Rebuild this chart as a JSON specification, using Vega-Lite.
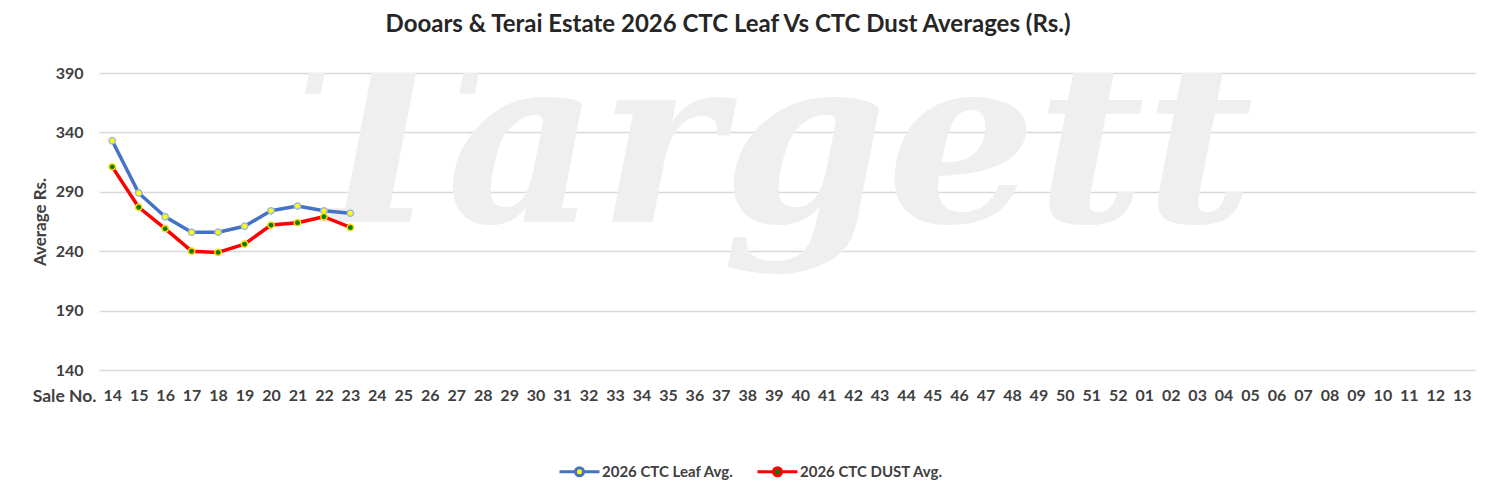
{
  "$schema": "https://vega.github.io/schema/vega-lite/v6.json",
  "width": 1376,
  "height": 297,
  "autosize": {"type": "none"},
  "padding": {"left": 99, "top": 73, "right": 21, "bottom": 129},
  "background": "white",
  "config": {
    "view": {"stroke": null},
    "font": "Lato",
    "axis": {"labelFont": "Lato", "labelFontWeight": "bold", "labelColor": "#404040", "titleFont": "Lato", "titleColor": "#404040"}
  },
  "title": {
    "text": "Dooars & Terai Estate 2026 CTC Leaf Vs CTC Dust Averages (Rs.)",
    "font": "Lato",
    "fontSize": 24,
    "fontWeight": "bold",
    "color": "#262626",
    "anchor": "middle",
    "dx": -59,
    "offset": 28
  },
  "data": {
    "values": [
      {"series": "2026 CTC Leaf Avg.", "sale": "14", "value": 333},
      {"series": "2026 CTC Leaf Avg.", "sale": "15", "value": 289},
      {"series": "2026 CTC Leaf Avg.", "sale": "16", "value": 269},
      {"series": "2026 CTC Leaf Avg.", "sale": "17", "value": 256},
      {"series": "2026 CTC Leaf Avg.", "sale": "18", "value": 256},
      {"series": "2026 CTC Leaf Avg.", "sale": "19", "value": 261},
      {"series": "2026 CTC Leaf Avg.", "sale": "20", "value": 274},
      {"series": "2026 CTC Leaf Avg.", "sale": "21", "value": 278},
      {"series": "2026 CTC Leaf Avg.", "sale": "22", "value": 274},
      {"series": "2026 CTC Leaf Avg.", "sale": "23", "value": 272},
      {"series": "2026 CTC DUST Avg.", "sale": "14", "value": 311},
      {"series": "2026 CTC DUST Avg.", "sale": "15", "value": 277},
      {"series": "2026 CTC DUST Avg.", "sale": "16", "value": 259},
      {"series": "2026 CTC DUST Avg.", "sale": "17", "value": 240},
      {"series": "2026 CTC DUST Avg.", "sale": "18", "value": 239},
      {"series": "2026 CTC DUST Avg.", "sale": "19", "value": 246},
      {"series": "2026 CTC DUST Avg.", "sale": "20", "value": 262},
      {"series": "2026 CTC DUST Avg.", "sale": "21", "value": 264},
      {"series": "2026 CTC DUST Avg.", "sale": "22", "value": 269},
      {"series": "2026 CTC DUST Avg.", "sale": "23", "value": 260}
    ]
  },
  "encoding": {
    "x": {
      "field": "sale",
      "type": "ordinal",
      "sort": null,
      "scale": {
        "type": "point",
        "padding": 0.5,
        "domain": ["14","15","16","17","18","19","20","21","22","23","24","25","26","27","28","29","30","31","32","33","34","35","36","37","38","39","40","41","42","43","44","45","46","47","48","49","50","51","52","01","02","03","04","05","06","07","08","09","10","11","12","13"]
      },
      "axis": {
        "title": "Sale No.",
        "titleAngle": 0,
        "titleX": -3,
        "titleY": 17,
        "titleAlign": "right",
        "titleBaseline": "top",
        "titleFontSize": 17.5,
        "titleFontWeight": "bold",
        "labelAngle": 0,
        "labelFontSize": 16,
        "labelPadding": 17,
        "ticks": false,
        "domain": false,
        "grid": false
      }
    },
    "y": {
      "field": "value",
      "type": "quantitative",
      "scale": {"domain": [140, 390], "nice": false, "zero": false},
      "axis": {
        "title": "Average Rs.",
        "titleFontSize": 17,
        "titleFontWeight": "bold",
        "titlePadding": 6,
        "values": [140, 190, 240, 290, 340, 390],
        "labelFontSize": 16,
        "labelPadding": 16,
        "ticks": false,
        "domain": false,
        "grid": true,
        "gridColor": "#d9d9d9",
        "gridWidth": 1.5
      }
    }
  },
  "layer": [
    {
      "data": {"values": [{"wm": "Targett", "sale": "39", "value": 265}]},
      "mark": {
        "type": "text",
        "clip": true,
        "font": "DejaVu Serif",
        "fontWeight": "bold",
        "fontStyle": "italic",
        "fontSize": 235,
        "color": "#efefef",
        "align": "center",
        "baseline": "alphabetic"
      },
      "encoding": {"text": {"field": "wm"}}
    },
    {
      "mark": {"type": "line", "strokeWidth": 3.5, "strokeJoin": "round", "strokeCap": "round"},
      "encoding": {
        "stroke": {
          "field": "series",
          "type": "nominal",
          "scale": {"domain": ["2026 CTC Leaf Avg.", "2026 CTC DUST Avg."], "range": ["#4472C4", "#FF0000"]},
          "legend": {
            "title": null,
            "orient": "none",
            "direction": "horizontal",
            "legendX": 459,
            "legendY": 377,
            "symbolType": "M-1,0L-0.2,0M0.2,0L1,0M-0.2,0A0.2,0.2,0,1,1,0.2,0A0.2,0.2,0,1,1,-0.2,0Z",
            "symbolSize": 1600,
            "symbolStrokeWidth": 3,
            "labelFont": "Lato",
            "labelFontWeight": "bold",
            "labelFontSize": 15,
            "labelColor": "#404040",
            "labelOffset": 1,
            "columnPadding": 17,
            "encode": {
              "symbols": {
                "update": {
                  "fill": {"signal": "datum.value === '2026 CTC Leaf Avg.' ? '#FFFF00' : '#008000'"},
                  "fillOpacity": {"value": 1}
                }
              }
            }
          }
        }
      }
    },
    {
      "transform": [{"filter": "datum.series === '2026 CTC Leaf Avg.'"}],
      "mark": {"type": "point", "shape": "circle", "filled": true, "fill": "#FFFF00", "stroke": "#9DB8E0", "strokeWidth": 1.5, "size": 40, "opacity": 1}
    },
    {
      "transform": [{"filter": "datum.series === '2026 CTC DUST Avg.'"}],
      "mark": {"type": "point", "shape": "circle", "filled": true, "fill": "#008000", "stroke": "#FFD700", "strokeWidth": 1.5, "size": 40, "opacity": 1}
    }
  ]
}
